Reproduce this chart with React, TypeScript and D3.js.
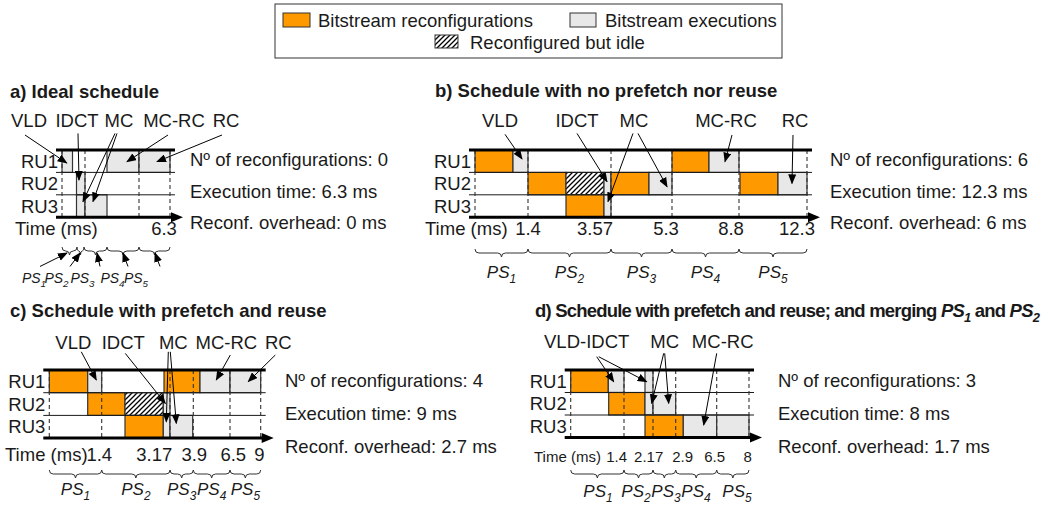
import React from 'react';
import * as d3 from 'd3';

const FONT = '"Liberation Sans", Arial, Helvetica, sans-serif';
const ORANGE = '#ff9900';
const GREY = '#e8e8e8';
const INK = '#1a1a1a';

type Kind = 'R' | 'E' | 'I';
// [row, start, end, kind] in schedule drawing units
type Block = [number, number, number, Kind];
// [x1, y1, x2, y2]: x in schedule units, y in row units (0 = top line, 3 = time axis)
type Arrow = [number, number, number, number];

const legendLabels = ['Bitstream reconfigurations', 'Bitstream executions', 'Reconfigured but idle'];
const ruLabels = ['RU1', 'RU2', 'RU3'];
const psIndex = ['1', '2', '3', '4', '5'];
const infoLabels = ['Nº of reconfigurations: ', 'Execution time: ', 'Reconf. overhead: '];

// a) Ideal schedule
const aBlocks: Block[] = [
  [0, 0, 1.05, 'E'],
  [1, 1.45, 2.3, 'E'],
  [2, 1.45, 2.3, 'E'],
  [2, 2.3, 4.5, 'E'],
  [0, 4.5, 7.7, 'E'],
  [0, 7.7, 10.8, 'E'],
];
const aDashes = [0, 2.3, 7.7, 10.8];
const aTicks = ['6.3'];
const aTickPos = [10.2];
const aBraces = [0, 1.5, 2.2, 4.5, 7.7, 10.8];
const aTasks = ['VLD', 'IDCT', 'MC', 'MC-RC', 'RC'];
const aTaskPos = [-3.3, 1.5, 5.7, 11.2, 16.4];
const aArrows: Arrow[] = [
  [-3.7, -0.67, 0.47, 0.58],
  [1.6, -0.74, 1.7, 1.34],
  [5.3, -0.74, 2.1, 2.3],
  [5.5, -0.74, 3.1, 2.3],
  [10.6, -0.67, 6.5, 0.52],
  [16.0, -0.67, 9.5, 0.52],
];
const aPsPos = [-2.8, -0.55, 2.05, 5.05, 7.4];
const aPsArrows: Arrow[] = [
  [-2.2, 5.2, 0.5, 4.6],
  [0.8, 5.2, 1.8, 4.6],
  [3.8, 5.2, 3.5, 4.6],
  [6.6, 5.2, 6.1, 4.6],
  [9.8, 5.2, 9.3, 4.6],
];
const aInfo = ['0', '6.3 ms', '0 ms'];

// b) No prefetch nor reuse
const bBlocks: Block[] = [
  [0, 0, 3.8, 'R'],
  [0, 3.8, 5.3, 'E'],
  [1, 5.3, 9.1, 'R'],
  [1, 9.1, 12.9, 'I'],
  [1, 12.9, 13.6, 'E'],
  [2, 9.1, 12.9, 'R'],
  [2, 12.9, 13.6, 'E'],
  [1, 13.6, 17.4, 'R'],
  [1, 17.4, 19.7, 'E'],
  [0, 19.7, 23.4, 'R'],
  [0, 23.4, 26.4, 'E'],
  [1, 26.5, 30.3, 'R'],
  [1, 30.3, 33.2, 'E'],
];
const bDashes = [0, 5.3, 13.6, 19.7, 26.4, 33.2];
const bTicks = ['1.4', '3.57', '5.3', '8.8', '12.3'];
const bTickPos = [5.3, 12.0, 19.1, 25.6, 32.2];
const bTasks = ['VLD', 'IDCT', 'MC', 'MC-RC', 'RC'];
const bTaskPos = [2.5, 10.2, 15.9, 25.1, 32.0];
const bArrows: Arrow[] = [
  [3.0, -0.7, 4.7, 0.4],
  [10.2, -0.74, 13.2, 1.41],
  [15.8, -0.74, 13.3, 2.3],
  [16.3, -0.74, 19.2, 1.64],
  [25.7, -0.67, 25.0, 0.52],
  [31.8, -0.67, 31.7, 1.49],
];
const bInfo = ['6', '12.3 ms', '6 ms'];

// c) Prefetch and reuse
const cBlocks: Block[] = [
  [0, 0, 3.84, 'R'],
  [0, 3.84, 5.24, 'E'],
  [1, 3.84, 7.57, 'R'],
  [1, 7.57, 11.4, 'I'],
  [1, 11.4, 12.07, 'E'],
  [2, 7.57, 11.4, 'R'],
  [2, 11.4, 12.07, 'E'],
  [2, 12.07, 14.34, 'E'],
  [0, 11.47, 15.07, 'R'],
  [0, 15.07, 18.07, 'E'],
  [0, 18.07, 21.14, 'E'],
];
const cDashes = [0, 5.24, 12.07, 14.4, 18.07, 21.14];
const cTicks = ['1.4', '3.17', '3.9', '6.5', '9'];
const cTickPos = [5.0, 10.5, 14.5, 18.4, 21.0];
const cTasks = ['VLD', 'IDCT', 'MC', 'MC-RC', 'RC'];
const cTaskPos = [2.4, 7.4, 12.4, 17.7, 22.9];
const cArrows: Arrow[] = [
  [3.2, -0.8, 4.7, 0.44],
  [7.6, -0.73, 11.6, 1.47],
  [11.9, -0.8, 11.7, 2.28],
  [12.1, -0.8, 12.7, 2.35],
  [18.1, -0.66, 16.7, 0.44],
  [22.6, -0.66, 19.9, 0.51],
];
const cInfo = ['4', '9 ms', '2.7 ms'];

// d) Prefetch and reuse, merging PS1 and PS2
const dBlocks: Block[] = [
  [0, 0, 3.76, 'R'],
  [0, 3.76, 5.33, 'E'],
  [1, 3.8, 7.43, 'R'],
  [0, 7.43, 8.23, 'E'],
  [1, 7.43, 8.23, 'E'],
  [1, 8.23, 10.5, 'E'],
  [2, 7.43, 11.26, 'R'],
  [2, 11.26, 14.6, 'E'],
  [2, 14.6, 17.83, 'E'],
];
const dDashes = [0, 5.33, 8.23, 10.5, 14.6, 17.83];
const dTicks = ['1.4', '2.17', '2.9', '6.5', '8'];
const dTickPos = [4.6, 7.8, 11.2, 14.4, 17.7];
const dTasks = ['VLD-IDCT', 'MC', 'MC-RC'];
const dTaskPos = [1.6, 9.4, 15.2];
const dArrows: Arrow[] = [
  [2.6, -0.59, 4.3, 0.52],
  [2.8, -0.59, 7.6, 0.52],
  [9.3, -0.74, 8.1, 1.48],
  [9.4, -0.74, 9.8, 1.48],
  [14.6, -0.74, 13.3, 2.44],
];
const dPsPos = [2.73, 6.53, 9.53, 12.53, 16.63];
const dInfo = ['3', '8 ms', '1.7 ms'];

interface PanelSpec {
  title: React.ReactNode;
  titleX: number;
  titleY: number;
  titleSpacing?: number;
  left: number;
  top: number;
  rowH: number;
  blocks: Block[];
  dashes: number[];
  ticks: string[];
  tickPos: number[];
  tickFont: number;
  timeX: number;
  timeY: number;
  braceY: number;
  braces: number[];
  psY: number;
  psSize: number;
  psPos?: number[];
  psArrows?: Arrow[];
  tasks: string[];
  taskPos: number[];
  taskY: number;
  arrows: Arrow[];
  info: string[];
  infoX: number;
  infoY: number;
  infoGap: number;
}

function PS({ x, y, i, size }: { x: number; y: number; i: string; size: number }) {
  return (
    <text x={x} y={y} textAnchor="middle" fontStyle="italic" fontSize={size}>
      PS
      <tspan fontSize={size * 0.7} dy={size * 0.28}>
        {i}
      </tspan>
    </text>
  );
}

function bracePath(xa: number, xb: number, y0: number, h: number) {
  const m = (xa + xb) / 2;
  const q = Math.min(4, (xb - xa) / 4);
  const yh = y0 + h / 2;
  return `M${xa},${y0} Q${xa},${yh} ${xa + q},${yh} L${m - q},${yh} Q${m},${yh} ${m},${y0 + h} Q${m},${yh} ${m + q},${yh} L${xb - q},${yh} Q${xb},${yh} ${xb},${y0}`;
}

function Panel(p: PanelSpec) {
  const last = d3.max(p.dashes) as number;
  const x = d3.scaleLinear().domain([0, 1]).range([p.left, p.left + 10]);
  const y = d3.scaleLinear().domain([0, 3]).range([p.top, p.top + 3 * p.rowH]);
  const xs = x(0) - 6;
  const xe = x(last) + 5;
  const xt = x(last) + 13;
  const ya = y(3);
  const braceMid = d3.pairs(p.braces).map(([s, e]) => (s + e) / 2);

  return (
    <g>
      <text x={p.titleX} y={p.titleY} fontWeight="bold" letterSpacing={p.titleSpacing ?? 0}>
        {p.title}
      </text>

      {p.tasks.map((t, i) => (
        <text key={t} x={x(p.taskPos[i])} y={p.taskY} textAnchor="middle">
          {t}
        </text>
      ))}

      {/* blocks */}
      {p.blocks.map(([r, s, e, k], i) => (
        <rect
          key={i}
          x={x(s)}
          y={y(r)}
          width={x(e) - x(s)}
          height={y(r + 1) - y(r)}
          fill={k === 'R' ? ORANGE : k === 'E' ? GREY : 'url(#hatch)'}
          stroke="#333"
          strokeWidth={1.2}
        />
      ))}

      {/* row separators */}
      {[1, 2].map((r) => (
        <line key={r} x1={xs} x2={xe} y1={y(r)} y2={y(r)} stroke={INK} strokeWidth={1} />
      ))}

      {/* phase boundaries */}
      {p.dashes.map((d, i) => (
        <line
          key={i}
          x1={x(d)}
          x2={x(d)}
          y1={y(0)}
          y2={ya}
          stroke="#333"
          strokeWidth={1.1}
          strokeDasharray="4,3"
        />
      ))}

      <line x1={xs} x2={xe} y1={y(0)} y2={y(0)} stroke="#000" strokeWidth={3} />
      <line x1={xs} x2={xt - 6} y1={ya} y2={ya} stroke="#000" strokeWidth={3} />
      <path d={`M${xt},${ya} L${xt - 12},${ya - 5} L${xt - 12},${ya + 5} Z`} fill="#000" />

      {ruLabels.map((l, r) => (
        <text key={l} x={xs + 2} y={(y(r) + y(r + 1)) / 2 + 6.5} textAnchor="end">
          {l}
        </text>
      ))}

      {/* task arrows */}
      {p.arrows.map(([x1, y1, x2, y2], i) => (
        <line
          key={i}
          x1={x(x1)}
          y1={y(y1)}
          x2={x(x2)}
          y2={y(y2)}
          stroke="#000"
          strokeWidth={1}
          markerEnd="url(#ah)"
        />
      ))}

      {/* time labels */}
      <text x={p.timeX} y={p.timeY} fontSize={p.tickFont}>
        Time (ms)
      </text>
      {p.ticks.map((t, i) => (
        <text key={i} x={x(p.tickPos[i])} y={p.timeY} fontSize={p.tickFont} textAnchor="middle">
          {t}
        </text>
      ))}

      {/* phase braces */}
      {d3.pairs(p.braces).map(([s, e], i) => (
        <path key={i} d={bracePath(x(s), x(e), p.braceY, 8)} fill="none" stroke="#333" strokeWidth={1} />
      ))}
      {psIndex.map((n, i) => (
        <PS key={n} x={x(p.psPos ? p.psPos[i] : braceMid[i])} y={p.psY} i={n} size={p.psSize} />
      ))}
      {p.psArrows &&
        p.psArrows.map(([x1, y1, x2, y2], i) => (
          <line
            key={i}
            x1={x(x1)}
            y1={y(y1)}
            x2={x(x2)}
            y2={y(y2)}
            stroke="#000"
            strokeWidth={1}
            markerEnd="url(#ah)"
          />
        ))}

      {infoLabels.map((l, i) => (
        <text key={l} x={p.infoX} y={p.infoY + i * p.infoGap}>
          {l + p.info[i]}
        </text>
      ))}
    </g>
  );
}

export default function App() {
  return (
    <svg
      width={1060}
      height={506}
      style={{ position: 'absolute', left: 0, top: 0, background: '#fff' }}
      fontFamily={FONT}
      fontSize={18.5}
      fill={INK}
    >
      <defs>
        <marker id="ah" markerUnits="userSpaceOnUse" markerWidth={10} markerHeight={8} refX={9} refY={4} orient="auto">
          <path d="M0,0 L10,4 L0,8 Z" fill="#000" />
        </marker>
        <pattern id="hatch" patternUnits="userSpaceOnUse" width={5} height={5}>
          <rect width={5} height={5} fill="#fff" />
          <path d="M-1,1 l2,-2 M0,5 l5,-5 M4,6 l2,-2" stroke="#000" strokeWidth={1.3} />
        </pattern>
      </defs>

      {/* legend */}
      <rect x={275} y={4} width={507} height={54} fill="#fff" stroke="#333" strokeWidth={1} />
      <rect x={283} y={13} width={27} height={14} fill={ORANGE} stroke="#333" />
      <text x={318} y={27}>{legendLabels[0]}</text>
      <rect x={570} y={13} width={26} height={14} fill={GREY} stroke="#333" />
      <text x={605} y={27}>{legendLabels[1]}</text>
      <rect x={435} y={35} width={23} height={13} fill="url(#hatch)" stroke="#333" />
      <text x={470} y={49}>{legendLabels[2]}</text>

      <Panel
        title="a) Ideal schedule"
        titleX={10}
        titleY={98}
        left={62}
        top={150}
        rowH={22.4}
        blocks={aBlocks}
        dashes={aDashes}
        ticks={aTicks}
        tickPos={aTickPos}
        tickFont={18.5}
        timeX={15}
        timeY={235}
        braceY={247}
        braces={aBraces}
        psY={283}
        psSize={14}
        psPos={aPsPos}
        psArrows={aPsArrows}
        tasks={aTasks}
        taskPos={aTaskPos}
        taskY={127}
        arrows={aArrows}
        info={aInfo}
        infoX={190}
        infoY={166}
        infoGap={31.5}
      />
      <Panel
        title="b) Schedule with no prefetch nor reuse"
        titleX={435}
        titleY={97}
        left={475}
        top={150}
        rowH={22.4}
        blocks={bBlocks}
        dashes={bDashes}
        ticks={bTicks}
        tickPos={bTickPos}
        tickFont={18.5}
        timeX={425}
        timeY={235}
        braceY={249}
        braces={bDashes}
        psY={278}
        psSize={17}
        tasks={bTasks}
        taskPos={bTaskPos}
        taskY={127}
        arrows={bArrows}
        info={bInfo}
        infoX={830}
        infoY={166}
        infoGap={31.5}
      />
      <Panel
        title="c) Schedule with prefetch and reuse"
        titleX={10}
        titleY={317}
        left={49.3}
        top={370}
        rowH={22.7}
        blocks={cBlocks}
        dashes={cDashes}
        ticks={cTicks}
        tickPos={cTickPos}
        tickFont={18.5}
        timeX={5}
        timeY={461}
        braceY={470}
        braces={cDashes}
        psY={495}
        psSize={17}
        tasks={cTasks}
        taskPos={cTaskPos}
        taskY={349}
        arrows={cArrows}
        info={cInfo}
        infoX={285}
        infoY={387}
        infoGap={33}
      />
      <Panel
        title={
          <>
            d) Schedule with prefetch and reuse; and merging <tspan fontStyle="italic">PS</tspan>
            <tspan fontStyle="italic" fontSize={13} dy={5}>
              1
            </tspan>
            <tspan dy={-5}> and </tspan>
            <tspan fontStyle="italic">PS</tspan>
            <tspan fontStyle="italic" fontSize={13} dy={5}>
              2
            </tspan>
          </>
        }
        titleX={535}
        titleY={317}
        titleSpacing={-0.8}
        left={570.7}
        top={370}
        rowH={22.5}
        blocks={dBlocks}
        dashes={dDashes}
        ticks={dTicks}
        tickPos={dTickPos}
        tickFont={15}
        timeX={534}
        timeY={462}
        braceY={470}
        braces={dDashes}
        psY={497}
        psSize={17}
        psPos={dPsPos}
        tasks={dTasks}
        taskPos={dTaskPos}
        taskY={348}
        arrows={dArrows}
        info={dInfo}
        infoX={778}
        infoY={387}
        infoGap={33}
      />
    </svg>
  );
}
